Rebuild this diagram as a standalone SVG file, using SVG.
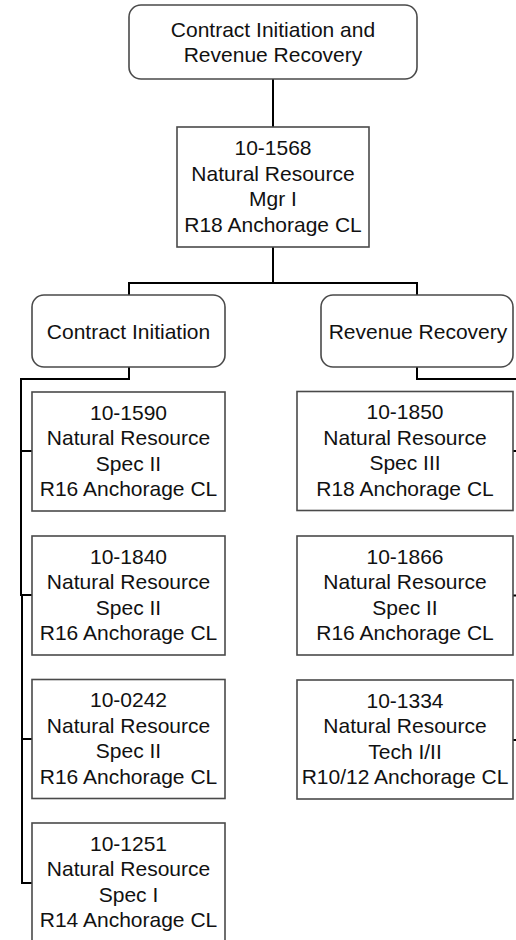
<svg xmlns="http://www.w3.org/2000/svg" width="516" height="940" viewBox="0 0 516 940">
<style>
.box{fill:#fff;stroke:#4a4a4a;stroke-width:1.6}
.c{fill:none;stroke:#000;stroke-width:2}
text{font-family:"Liberation Sans",Arial,sans-serif;font-size:21px;fill:#111;text-anchor:middle}
</style>
<rect width="516" height="940" fill="#fff"/>
<g id="connectors">
<path class="c" d="M273,79 V127"/>
<path class="c" d="M273,247 V283 H129 V295"/>
<path class="c" d="M273,283 H417 V295"/>
<path class="c" d="M129,367 V379 H21 V595 H32"/>
<path class="c" d="M21,451 H32"/>
<path class="c" d="M22,595 V883 H32"/>
<path class="c" d="M22,739 H32"/>
<path class="c" d="M417,367 V379 H519 V740 H513"/>
<path class="c" d="M513,451 H519"/>
<path class="c" d="M513,595.5 H519"/>
</g>
<g id="root">
<rect class="box" x="129" y="5" width="288" height="74" rx="12"/>
<text x="273" y="37">Contract Initiation and</text>
<text x="273" y="62">Revenue Recovery</text>
</g>
<g id="n10-1568">
<rect class="box" x="177" y="127" width="192" height="120"/>
<text x="273" y="155">10-1568</text>
<text x="273" y="180.5">Natural Resource</text>
<text x="273" y="206">Mgr I</text>
<text x="273" y="231.5">R18 Anchorage CL</text>
</g>
<g id="contract-initiation">
<rect class="box" x="32" y="295" width="193" height="72" rx="12"/>
<text x="128.5" y="338.5">Contract Initiation</text>
</g>
<g id="revenue-recovery">
<rect class="box" x="321" y="295" width="192" height="72" rx="12"/>
<text x="418" y="338.5">Revenue Recovery</text>
</g>
<g id="n10-1590">
<rect class="box" x="32" y="392" width="193" height="119"/>
<text x="128.5" y="419.5">10-1590</text>
<text x="128.5" y="445">Natural Resource</text>
<text x="128.5" y="470.5">Spec II</text>
<text x="128.5" y="496">R16 Anchorage CL</text>
</g>
<g id="n10-1840">
<rect class="box" x="32" y="536" width="193" height="119"/>
<text x="128.5" y="563.5">10-1840</text>
<text x="128.5" y="589">Natural Resource</text>
<text x="128.5" y="614.5">Spec II</text>
<text x="128.5" y="640">R16 Anchorage CL</text>
</g>
<g id="n10-0242">
<rect class="box" x="32" y="679.5" width="193" height="119"/>
<text x="128.5" y="707">10-0242</text>
<text x="128.5" y="732.5">Natural Resource</text>
<text x="128.5" y="758">Spec II</text>
<text x="128.5" y="783.5">R16 Anchorage CL</text>
</g>
<g id="n10-1251">
<rect class="box" x="32" y="823" width="193" height="119"/>
<text x="128.5" y="850.5">10-1251</text>
<text x="128.5" y="876">Natural Resource</text>
<text x="128.5" y="901.5">Spec I</text>
<text x="128.5" y="927">R14 Anchorage CL</text>
</g>
<g id="n10-1850">
<rect class="box" x="297" y="391.5" width="216" height="119"/>
<text x="405" y="419">10-1850</text>
<text x="405" y="444.5">Natural Resource</text>
<text x="405" y="470">Spec III</text>
<text x="405" y="495.5">R18 Anchorage CL</text>
</g>
<g id="n10-1866">
<rect class="box" x="297" y="536" width="216" height="119"/>
<text x="405" y="563.5">10-1866</text>
<text x="405" y="589">Natural Resource</text>
<text x="405" y="614.5">Spec II</text>
<text x="405" y="640">R16 Anchorage CL</text>
</g>
<g id="n10-1334">
<rect class="box" x="297" y="680" width="216" height="119"/>
<text x="405" y="707.5">10-1334</text>
<text x="405" y="733">Natural Resource</text>
<text x="405" y="758.5">Tech I/II</text>
<text x="405" y="784">R10/12 Anchorage CL</text>
</g>
</svg>
